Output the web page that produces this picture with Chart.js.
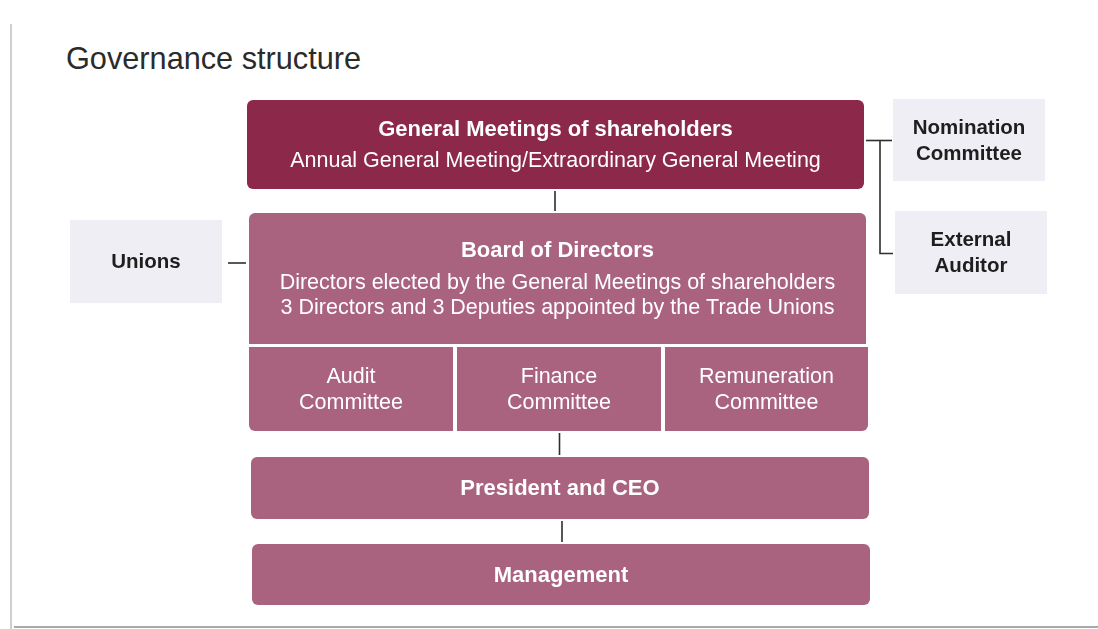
<!DOCTYPE html>
<html>
<head>
<meta charset="utf-8">
<script src="https://cdn.jsdelivr.net/npm/chart.js@4"></script>
<style>
    body { margin: 0; background: #fff; }
    #wrap { position: relative; width: 1098px; height: 629px; overflow: hidden; }
    #title { position: absolute; left: 66px; top: 44px; font: 30.7px 'Liberation Sans', Arial, sans-serif; line-height: 30px; color: #2b2b2b; white-space: nowrap; }
    #edgeLeft { position: absolute; left: 10px; top: 24px; width: 2px; height: 605px; background: #cfcfcf; }
    #edgeBottom { position: absolute; left: 14px; top: 626px; width: 1084px; height: 2px; background: #a9a9a9; }
    canvas { position: absolute; left: 0; top: 0; }
</style>
</head>
<body>
<div id="wrap">
    <div id="edgeLeft"></div>
    <div id="edgeBottom"></div>
    <div id="title">Governance structure</div>
    <canvas id="org" width="1098" height="629"></canvas>
</div>
<script>
// what each box says
var units = ['General Meetings', 'Board of Directors', 'Audit Committee', 'Finance Committee', 'Remuneration Committee',
    'President and CEO', 'Management', 'Unions', 'Nomination Committee', 'External Auditor']
var headings = [['General Meetings of shareholders'], ['Board of Directors'], [], [], [],
    ['President and CEO'], ['Management'], ['Unions'], ['Nomination', 'Committee'], ['External', 'Auditor']]
var details = [
    ['Annual General Meeting/Extraordinary General Meeting'],
    ['Directors elected by the General Meetings of shareholders', '3 Directors and 3 Deputies appointed by the Trade Unions'],
    ['Audit', 'Committee'], ['Finance', 'Committee'], ['Remuneration', 'Committee'],
    [], [], [], [], []]

// layout, in page units (the hidden axes run 0..1098 and 0..629)
var boxLeft   = [247, 249, 249, 457, 665, 251, 252,  70,  893,  895]
var boxRight  = [864, 866, 453, 661, 868, 869, 870, 222, 1045, 1047]
var boxTop    = [100, 213, 347, 347, 347, 457, 544, 220,   99,  211]
var boxBottom = [189, 344, 431, 431, 431, 519, 605, 303,  181,  294]
var boxTone   = ['dark', 'pink', 'pink', 'pink', 'pink', 'pink', 'pink', 'light', 'light', 'light']
var boxRadius = [6, {topLeft: 6, topRight: 6}, {bottomLeft: 6}, 0, {bottomRight: 6}, 6, 6, 0, 0, 0]
var lineGaps  = [[32], [33, 25], [26], [26], [26], [], [], [], [26], [26]]

var connectors = [
    [{x: 555, y: 191}, {x: 555, y: 211}],
    [{x: 559.5, y: 433}, {x: 559.5, y: 455}],
    [{x: 562, y: 521}, {x: 562, y: 542}],
    [{x: 228, y: 263}, {x: 246, y: 263}],
    [{x: 866, y: 140.5}, {x: 892, y: 140.5}],
    [{x: 880, y: 140.5}, {x: 880, y: 253.5}, {x: 893, y: 253.5}]
]

var tones = {
    dark:  { fill: '#8c2849', text: '#ffffff' },
    pink:  { fill: '#a9637f', text: '#ffffff' },
    light: { fill: '#efeef4', text: '#1e1e1e' }
}

var fontFamily = "'Liberation Sans', Arial, sans-serif"

var boxes = units.map((u, i) => ({
    type: 'bar',
    label: u,
    data: [{ x: [boxLeft[i], boxRight[i]], y: (boxTop[i] + boxBottom[i]) / 2 }],
    barThickness: boxBottom[i] - boxTop[i],
    grouped: false,
    backgroundColor: tones[boxTone[i]].fill,
    borderRadius: boxRadius[i],
    borderSkipped: false,
    borderWidth: 0,
    inflateAmount: 0
}))

var lines = connectors.map(pts => ({
    type: 'line',
    data: pts,
    borderColor: '#2e2e2e',
    borderWidth: 1.6,
    pointRadius: 0,
    fill: false
}))

// writes the labels in the middle of each bar
var boxText = {
    id: 'boxText',
    afterDatasetsDraw(chart) {
        var ctx = chart.ctx
        ctx.save()
        ctx.textAlign = 'center'
        ctx.textBaseline = 'middle'
        units.forEach((u, i) => {
            var c = chart.getDatasetMeta(i).data[0].getCenterPoint()
            var side = boxTone[i] == 'light'
            var rows = headings[i].map(t => ({ t: t, bold: true })).concat(details[i].map(t => ({ t: t, bold: false })))
            var gaps = lineGaps[i]
            var total = 0
            for (var k = 0; k < rows.length - 1; k++) total += gaps[k]
            var y = c.y - total / 2
            ctx.fillStyle = tones[boxTone[i]].text
            rows.forEach((r, k) => {
                var size = r.bold ? (side ? 20.5 : 22) : 21.5
                ctx.font = (r.bold ? 'bold ' : '') + size + 'px ' + fontFamily
                ctx.fillText(r.t, c.x, y + 1)
                y += gaps[k] || 0
            })
        })
        ctx.restore()
    }
}

var org = new Chart(document.getElementById('org'), {
    type: 'bar',
    data: { datasets: boxes.concat(lines) },
    options: {
        responsive: false,
        animation: false,
        events: [],
        indexAxis: 'y',
        layout: { padding: 0 },
        plugins: { legend: { display: false }, tooltip: { enabled: false } },
        scales: {
            x: { type: 'linear', min: 0, max: 1098, offset: false, display: false },
            y: { type: 'linear', min: 0, max: 629, reverse: true, offset: false, display: false }
        }
    },
    plugins: [boxText]
})
</script>
</body>
</html>
